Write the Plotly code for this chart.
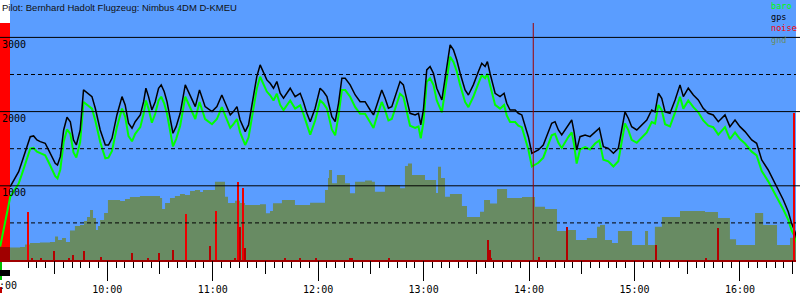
import plotly.graph_objects as go
import pandas as pd

BASE = pd.Timestamp("2000-01-01 09:00:00")

# ---------------- data (minutes after 09:00, metres) ----------------
flight_min = [-0.9, 1.0, 2.9, 4.0, 4.8, 7.7, 9.6, 11.5, 14.3, 16.2, 18.1, 20.0, 21.9, 24.7, 26.6, 28.6,
              30.4, 31.7, 33.3, 35.2, 37.1, 39.0, 40.8, 42.4, 44.6, 46.5, 48.8, 51.3, 53.2, 56.0, 58.9,
              60.7, 62.7, 65.5, 68.4, 70.2, 72.1, 74.1, 75.9, 78.8, 80.7, 82.0, 83.5, 85.4, 87.3, 89.2,
              90.7, 92.4, 94.0, 95.8, 97.4, 99.2, 101.5, 104.4, 106.2, 108.2, 110.1, 112.5, 113.9, 115.7,
              119.6, 122.4, 125.2, 127.1, 130.0, 131.8, 133.8, 135.6, 138.5, 140.4, 143.2, 145.1, 147.0,
              148.9, 150.8, 152.7, 154.6, 156.5, 158.4, 160.3, 164.1, 166.9, 169.8, 171.6, 173.6, 175.5,
              178.3, 181.1, 183.0, 185.0, 187.8, 189.7, 191.6, 193.5, 195.4, 198.2, 201.1, 203.9, 206.7,
              209.6, 211.5, 213.4, 216.2, 218.1, 220.0, 221.9, 224.8, 226.6, 228.5, 230.5, 232.3, 235.2,
              237.1, 238.4, 239.9, 241.8, 243.7, 245.6, 247.5, 250.4, 253.2, 255.1, 257.0, 258.9, 260.8,
              263.6, 265.5, 268.3, 271.2, 273.1, 275.0, 276.3, 277.8, 280.7, 283.5, 285.8, 287.3, 289.2,
              292.1, 293.9, 295.9, 297.7, 299.6, 301.6, 303.4, 305.3, 308.1, 310.1, 312.9, 314.8, 316.7,
              318.6, 320.5, 322.4, 324.3, 325.6, 327.1, 329.0, 331.9, 334.7, 337.6, 340.0, 342.3, 345.1,
              348.0, 350.8, 352.7, 354.6, 356.5, 358.4, 361.3, 364.1, 367.0, 369.8, 371.7, 373.6, 375.5,
              377.4, 380.2, 383.1, 385.9, 387.8, 390.6, 393.5, 396.3, 399.1, 402.0, 404.8, 407.7, 411.5,
              414.3, 417.2, 420.0, 422.9, 426.7, 429.5, 432.4, 436.1, 439.0, 441.8, 444.7, 447.5, 449.4,
              451.3, 452.6, 453.2]

gps_alt = [None, None, None, None, 988, 1123, 1190, 1325, 1527, 1662, 1672, 1618, 1595, 1573, 1483, 1393,
           1303, 1280, 1393, 1752, 1923, 1864, 1618, 1550, 1752, 2292, 2247, 2202, 2045, 1752, 1550,
           1550, 1640, 1955, 2202, 2090, 1843, 1775, 1864, 1955, 2134, 2315, 2202, 2022, 2134, 2315,
           2360, 2270, 2134, 1932, 1708, 1797, 1977, 2360, 2270, 2157, 2067, 2292, 2202, 2067,
           2000, 2067, 2224, 2112, 1955, 2000, 2067, 1887, 1730, 1820, 2202, 2472, 2629,
           2517, 2427, 2382, 2315, 2405, 2247, 2180, 2315, 2202, 2247, 2134, 1977, 1864,
           2045, 2315, 2270, 2202, 1932, 1864, 2112, 2450, 2450, 2360, 2224, 2134, 2134,
           2022, 1955, 2090, 2292, 2180, 2045, 2067, 2270, 2405, 2360, 2134, 1977, 1955,
           1977, 1820, 2022, 2562, 2607, 2517, 2315, 2157, 2607, 2898, 2831, 2696, 2517,
           2292, 2224, 2360, 2539, 2652, 2607, 2674, 2517, 2247, 2202, 2247, 2112, 2022,
           2022, 1977, 1955, 1797, 1662, 1438, 1460, 1483, 1550, 1662, 1843, 1864, 1752,
           1685, 1752, 1820, 1887, 1730, 1483, 1662, 1685, 1662, 1730, 1775, 1527, 1505,
           1438, 1505, 1752, 1997, 1910, 1797, 1752, 1820, 1887, 2022, 1997, 2247, 2180,
           1997, 1977, 2157, 2360, 2202, 2315, 2224, 2157, 2045, 1977, 1955, 1864, 1955,
           1797, 1887, 1797, 1730, 1618, 1573, 1348, 1213, 1078, 944, 809, 651, 494,
           382, 270, 210]

baro_alt = [180, 420, 640, 790, 850, 960, 1030, 1160, 1360, 1500, 1510, 1460, 1440, 1410, 1320, 1225,
            1130, 1100, 1220, 1590, 1760, 1700, 1450, 1380, 1590, 2130, 2090, 2040, 1880, 1590, 1370,
            1380, 1470, 1790, 2040, 1930, 1670, 1600, 1700, 1790, 1970, 2150, 2040, 1850, 1970, 2150,
            2200, 2110, 1970, 1760, 1530, 1630, 1810, 2200, 2110, 1990, 1900, 2130, 2040, 1900,
            1830, 1900, 2060, 1950, 1780, 1830, 1900, 1720, 1550, 1650, 2040, 2310, 2470,
            2360, 2270, 2220, 2150, 2240, 2090, 2020, 2150, 2040, 2085, 1970, 1810, 1690,
            1880, 2150, 2110, 2040, 1760, 1680, 1950, 2290, 2290, 2200, 2060, 1970, 1970,
            1850, 1780, 1930, 2130, 2020, 1880, 1900, 2110, 2240, 2200, 1970, 1810, 1780,
            1800, 1640, 1850, 2400, 2450, 2360, 2150, 1990, 2450, 2740, 2670, 2540, 2360,
            2130, 2060, 2200, 2380, 2490, 2450, 2510, 2360, 2090, 2040, 2090, 1950, 1860,
            1860, 1810, 1790, 1630, 1490, 1260, 1290, 1310, 1380, 1500, 1680, 1700, 1580,
            1510, 1590, 1660, 1720, 1560, 1300, 1490, 1520, 1490, 1570, 1610, 1350, 1330,
            1260, 1330, 1590, 1840, 1750, 1620, 1580, 1650, 1720, 1860, 1840, 2090, 2020,
            1830, 1800, 1990, 2200, 2040, 2150, 2060, 1990, 1880, 1810, 1790, 1690, 1790,
            1630, 1720, 1630, 1570, 1460, 1410, 1200, 1060, 940, 810, 680, 540, 400,
            310, 220, 180]

gnd_min = [4.7, 10.4, 13.2, 16.0, 21.7, 27.4, 30.3, 32.0, 34.3, 36.5, 38.8, 41.6, 44.5, 46.8, 48.5,
           50.2, 51.9, 53.6, 54.7, 55.9, 58.2, 60.4, 64.4, 67.3, 70.1, 72.9, 78.6, 84.3, 90.0, 91.2,
           92.9, 95.7, 98.5, 101.4, 104.2, 107.1, 109.9, 112.8, 114.5, 118.5, 121.3, 125.3, 127.0,
           128.7, 132.7, 135.5, 138.4, 144.1, 146.9, 150.3, 152.6, 154.3, 159.4, 162.3, 166.8, 172.5,
           175.4, 182.2, 183.9, 185.6, 186.2, 187.9, 190.7, 195.3, 198.1, 201.0, 206.7, 210.6, 212.3,
           215.2, 218.0, 220.9, 226.6, 229.4, 231.1, 233.4, 237.9, 240.8, 245.3, 247.1, 248.2, 249.9,
           252.2, 255.0, 259.6, 261.8, 264.7, 269.2, 272.1, 274.4, 277.8, 281.8, 285.2, 287.5, 293.1,
           296.0, 300.5, 303.4, 306.2, 309.1, 314.8, 315.9, 321.6, 325.0, 326.7, 330.7, 332.9, 336.4,
           338.7, 340.4, 343.2, 347.2, 350.6, 354.6, 358.6, 364.3, 366.0, 367.7, 371.6, 375.6, 383.0,
           385.9, 397.3, 400.1, 404.7, 407.5, 411.5, 414.3, 417.8, 426.9, 428.6, 431.4, 433.2, 438.8,
           441.1, 446.8, 448.5, 452.0]

gnd_alt = [168, 175, 209, 229, 236, 243, 317, 270, 297, 243, 398, 458, 472, 526, 580,
           674, 566, 404, 458, 539, 634, 809, 809, 795, 822, 849, 863, 863, 836, 687,
           768, 836, 863, 890, 876, 930, 944, 917, 944, 944, 1056, 1056, 853,
           768, 800, 768, 741, 741, 750, 629, 660, 764, 809, 809, 741, 741,
           773, 773, 944, 1105, 1213, 1034, 1146, 1034, 900, 1056, 1070, 1056, 921,
           921, 1000, 1011, 966, 1267, 1300, 1146, 1146, 1078, 1078, 903, 1258, 1105,
           853, 890, 890, 728, 580, 580, 650, 809, 760, 957, 957, 836, 836,
           849, 849, 718, 718, 687, 687, 391, 404, 404, 270, 270, 297, 297,
           449, 472, 270, 229, 391, 391, 202, 202, 391, 202, 449, 580, 580,
           660, 660, 647, 647, 566, 566, 280, 202, 202, 634, 634, 472, 472,
           202, 202, 300, 250]

noise_min = [15.1, 17.4, 22.3, 29.9, 38.4, 40.7, 46.9, 56.4, 74.3, 83.4, 89.6, 97.6, 104.8, 118.5,
             121.9, 132.7, 134.6, 135.5, 137.4, 138.4, 161.1, 169.7, 178.8, 198.1, 199.1, 220.5,
             276.8, 277.8, 278.7, 305.8, 321.8, 372.2, 400.7, 407.7, 450.8, 453.2]
noise_lvl = [18.6, 0.5, 0.5, 3.5, 0.5, 1.9, 3.5, 1.3, 2.8, 0.8, 2.8, 3.8, 17.7, 5.4,
             18.8, 0.4, 30.1, 12.8, 27.8, 4.5, 0.7, 0.8, 0.5, 0.5, 0.5, 0.8,
             7.7, 3.8, 0.7, 1.3, 12.8, 5.8, 0.4, 12.2, 56.4, 35.3]

cursor_min = 302.4
view_min = [-1.02, 451.9]
y_ticks = [1000, 2000, 3000]
y_dashed = [500, 1500, 2500]
y_max = 3504
first_tick_label = "\u00a09:00"
title_text = "Pilot: Bernhard Hadolt Flugzeug: Nimbus 4DM D-KMEU"
legend_names = ["baro", "gps", "noise", "gnd"]

# ---------------- styles ----------------
BLUE = "rgb(90,157,255)"
GND = "rgb(104,139,99)"
BARO = "#00ff00"
NOISE = "#ff0000"
MONO = "DejaVu Sans Mono"
W, H, ML, MR, MT, MB = 800, 300, 0, 4, 0, 40
PW, PH = W - ML - MR, H - MT - MB


def ts(vals):
    return [BASE + pd.Timedelta(minutes=v) for v in vals]


def px_x(p):
    return p / PW


def px_y(p):
    return (PH - p) / PH


fig = go.Figure()
fig.add_trace(go.Scatter(x=ts(gnd_min), y=gnd_alt, mode="lines", line=dict(width=0, shape="hv"),
                         fill="tozeroy", fillcolor=GND, showlegend=False, hoverinfo="skip"))
fig.add_trace(go.Scatter(x=ts(flight_min), y=baro_alt, mode="lines", line=dict(color=BARO, width=2),
                         showlegend=False, connectgaps=False))
fig.add_trace(go.Scatter(x=ts(flight_min), y=gps_alt, mode="lines", line=dict(color="black", width=1.5),
                         showlegend=False, connectgaps=False))
fig.add_trace(go.Bar(x=ts(noise_min), y=noise_lvl, yaxis="y2", width=45000,
                     marker=dict(color=["#ee0000" if v >= 15 else "#b40000" for v in noise_lvl], line_width=0),
                     showlegend=False, cliponaxis=False))
fig.add_trace(go.Scatter(x=ts([view_min[0]]), y=[None], xaxis="x2", showlegend=False, hoverinfo="skip"))

xr = ts(view_min)
fig.update_layout(
    width=W, height=H, margin=dict(l=ML, r=MR, t=MT, b=MB, autoexpand=False),
    paper_bgcolor="white", plot_bgcolor=BLUE, bargap=0,
    xaxis=dict(type="date", range=xr, tickformat="%H:%M", dtick=3600000, tick0=BASE, automargin=False,
               ticks="outside", ticklen=19, tickwidth=1, tickcolor="black",
               minor=dict(dtick=300000, tick0=BASE, ticks="outside", ticklen=6, tickcolor="black", tickwidth=1,
                          showgrid=False),
               showgrid=False, zeroline=False, showline=True, linecolor="#a00000", linewidth=2,
               tickfont=dict(family=MONO, size=10, color="black"), ticklabeloverflow="allow"),
    xaxis2=dict(type="date", range=xr, overlaying="x", anchor="y", side="bottom", dtick=1800000, tick0=BASE,
                ticks="outside", ticklen=13, tickwidth=1, tickcolor="black", showticklabels=False,
                showgrid=False, zeroline=False, showline=False, automargin=False),
    yaxis=dict(range=[0, y_max], tickvals=y_ticks, ticks="", showgrid=False, zeroline=False, showline=False,
               automargin=False, ticklabelposition="inside bottom", ticklabelstandoff=-1,
               tickfont=dict(family=MONO, size=10, color="black")),
    yaxis2=dict(range=[0, 100], overlaying="y", visible=False),
)

shapes = []
# left strip
shapes.append(dict(type="rect", xref="x domain", yref="y domain", x0=0, x1=px_x(10), y0=px_y(23), y1=1,
                   fillcolor="white", line_width=0, layer="below"))
shapes.append(dict(type="rect", xref="x domain", yref="y domain", x0=0, x1=px_x(10), y0=px_y(247), y1=px_y(23),
                   fillcolor="#ff0000", line_width=0, layer="below"))
shapes.append(dict(type="rect", xref="x domain", yref="y domain", x0=0, x1=px_x(10), y0=px_y(261), y1=px_y(247),
                   fillcolor="#a00000", line_width=0, layer="below"))
# grid lines
for v in y_ticks:
    shapes.append(dict(type="line", xref="paper", yref="y", x0=0, x1=W / PW, y0=v, y1=v,
                       line=dict(color="black", width=1), layer="above"))
for v in y_dashed:
    shapes.append(dict(type="line", xref="paper", yref="y", x0=px_x(10), x1=1, y0=v, y1=v,
                       line=dict(color="black", width=1, dash="4px,3px"), layer="above"))
# cursor
cx = ts([cursor_min])[0]
shapes.append(dict(type="line", xref="x", yref="paper", x0=cx, x1=cx, y0=0, y1=px_y(23),
                   line=dict(color="#a00000", width=1), layer="above"))
# small markers below the axis on the left
shapes.append(dict(type="rect", xref="paper", yref="paper", x0=0, x1=px_x(2), y0=px_y(280), y1=px_y(262),
                   fillcolor="#00c000", line_width=0, layer="above"))
shapes.append(dict(type="rect", xref="paper", yref="paper", x0=0, x1=px_x(10), y0=px_y(276), y1=px_y(270),
                   fillcolor="black", line_width=0, layer="above"))
shapes.append(dict(type="rect", xref="paper", yref="paper", x0=0, x1=px_x(2), y0=px_y(293), y1=px_y(287),
                   fillcolor="#c00000", line_width=0, layer="above"))
fig.update_layout(shapes=shapes)

legend_colors = [BARO, "black", NOISE, GND]
legend_html = "<br>".join(f'<span style="color:{c}">{n}</span>' for n, c in zip(legend_names, legend_colors))
annotations = [
    dict(text=title_text, x=0, y=px_y(7), xref="paper", yref="paper", xanchor="left",
         yanchor="middle", showarrow=False,
         font=dict(family="Liberation Sans, Arial", size=9.5, color="#111")),
    dict(text=legend_html, x=px_x(770), y=1, xref="paper", yref="paper", xanchor="left", yanchor="top",
         align="left", showarrow=False, borderpad=0, font=dict(family=MONO, size=8.6, color="black")),
    dict(text=first_tick_label, x=BASE, xref="x", y=px_y(285.5), yref="paper", xanchor="center",
         yanchor="middle", showarrow=False, font=dict(family=MONO, size=10, color="black")),
]
fig.update_layout(annotations=annotations)

fig.write_html("out.html")
